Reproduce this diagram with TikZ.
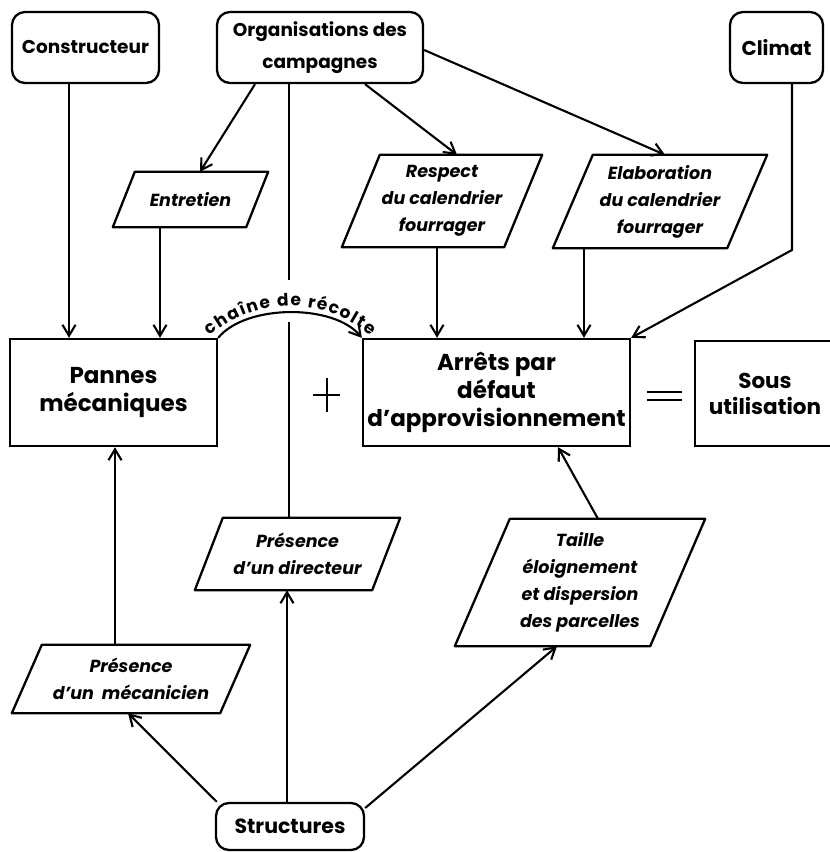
\documentclass[tikz,border=0pt]{standalone}
\usepackage{fontspec}
\setmainfont{Poppins}
\usetikzlibrary{arrows.meta,decorations.text}
\tikzset{
 rbox/.style={draw, line width=2.3pt, rounded corners=13pt, inner sep=0pt, align=center, font=\fontsize{18.5}{32}\selectfont\bfseries},
 sbox/.style={draw, line width=2.3pt, inner sep=0pt, align=center, font=\fontsize{23}{28}\selectfont\bfseries},
 pbox/.style={inner sep=0pt, align=center, font=\fontsize{17.5}{27}\selectfont\bfseries\itshape},
 boxline/.style={line width=2.3pt, line join=round},
 conn/.style={line width=2.1pt},
 conarrow/.style={conn, -{Straight Barb[length=11pt,width=13pt]}},
}
\newcommand\slantbox[2]{\draw[boxline] ([xshift=#2]#1.north west) -- (#1.north east) -- ([xshift=-#2]#1.south east) -- (#1.south west) -- cycle;}
\begin{document}
\begin{tikzpicture}[x=1pt,y=-1pt]
\useasboundingbox (0,0) rectangle (830,852);
% top rounded boxes
\node[rbox, minimum width=147pt, minimum height=71pt] (con) at (85.5,47.5) {Constructeur};
\node[rbox, minimum width=206pt, minimum height=71pt] (org) at (320,47.5) {Organisations des\\campagnes};
\node[rbox, minimum width=93pt, minimum height=71pt, font=\fontsize{20}{30}\selectfont\bfseries] (cli) at (776.5,47.5) {Climat};
\node[rbox, minimum width=148pt, minimum height=47pt, font=\fontsize{20.5}{30}\selectfont\bfseries] (str) at (290,826.5) {Structures};
% main boxes
\node[sbox, minimum width=207pt, minimum height=107pt] (pan) at (113.5,392.5) {Pannes\\mécaniques};
\node[sbox, minimum width=267pt, minimum height=107pt] (arre) at (496.5,392.5) {Arrêts par\\défaut\\d’approvisionnement};
\node[sbox, minimum width=140pt, minimum height=105pt, font=\fontsize{21.5}{26}\selectfont\bfseries] (sou) at (765,393.5) {Sous\\utilisation};
% parallelograms
\node[pbox, minimum width=155pt, minimum height=55pt] (ent) at (190.5,199.5) {Entretien};
\node[pbox, minimum width=200pt, minimum height=92pt] (res) at (442,201) {Respect\\du calendrier\\fourrager};
\node[pbox, minimum width=214pt, minimum height=93pt] (ela) at (660,201.5) {Elaboration\\du calendrier\\fourrager};
\node[pbox, minimum width=205pt, minimum height=72pt] (dir) at (297.5,554) {Présence\\d’un directeur};
\node[pbox, minimum width=250pt, minimum height=127pt] (tai) at (580,582.5) {Taille\\éloignement\\et dispersion\\des parcelles};
\node[pbox, minimum width=238pt, minimum height=68pt] (mec) at (131,679) {Présence\\d’un\ \ mécanicien};
\slantbox{ent}{22pt}
\slantbox{res}{38pt}
\slantbox{ela}{40pt}
\slantbox{dir}{28pt}
\slantbox{tai}{55pt}
\slantbox{mec}{30pt}
% plus and equals
\draw[line width=2.3pt] (313,395) -- (340,395) (327,378) -- (327,412);
\draw[line width=2.3pt] (647,392) -- (682,392) (647,400) -- (682,400);
% connectors
\coordinate (g1) at (289,280);
\coordinate (g2) at (289,322);
\coordinate (k) at (792,250);
\coordinate (lbl) at (210,336);
\draw[conarrow] (con.south -| 69,0) -- (pan.north -| 69,0);
\draw[conarrow] (org.south -| 255,0) -- (ent.north -| 200,0);
\draw[conarrow] (org.south -| 365,0) -- (res.north -| 457,0);
\draw[conarrow] (org.east |- 0,50) -- (ela.north -| 665,0);
\draw[conn] (org.south -| 289,0) -- (g1);
\draw[conn] (g2) -- (dir.north -| 289,0);
\draw[conarrow] (ent.south -| 160,0) -- (pan.north -| 160,0);
\draw[conarrow] (res.south -| 437,0) -- (arre.north -| 437,0);
\draw[conarrow] (ela.south -| 584,0) -- (arre.north -| 584,0);
\draw[conarrow] (cli.south -| 792,0) -- (k) -- (arre.north east);
\draw[conarrow] (pan.north east) .. controls +(28,-34) and +(-28,-34) .. (arre.north west);
\path[decorate, decoration={text along path, text={|\fontsize{17}{17}\selectfont\bfseries|chaîne de récolte}, text align={fit to path}}] (lbl) arc[start angle=131, end angle=49, radius=122pt];
\draw[conarrow] (mec.north -| 115,0) -- (pan.south -| 115,0);
\draw[conarrow] (tai.north -| 598,0) -- (arre.south -| 558,0);
\draw[conarrow] ([xshift=2pt]str.north west) -- (mec.south -| 128,0);
\draw[conarrow] (str.north -| 287,0) -- (dir.south -| 287,0);
\draw[conarrow] (str.east |- 0,808) -- (tai.south -| 557,0);
\end{tikzpicture}
\end{document}
